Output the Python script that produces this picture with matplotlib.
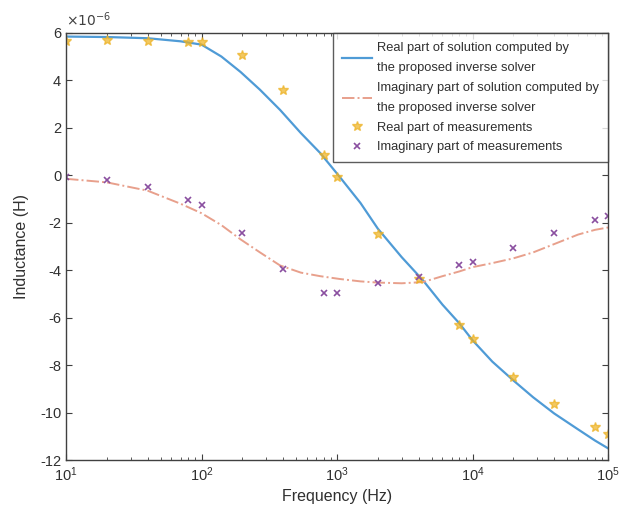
import numpy as np
import matplotlib
matplotlib.use("Agg")
import matplotlib.pyplot as plt
from matplotlib.ticker import FuncFormatter, LogLocator

plt.rcParams['font.family'] = ['Liberation Sans', 'DejaVu Sans']
plt.rcParams['axes.unicode_minus'] = False

# measurement frequencies (Hz)
freq_meas = [10, 20, 40, 80, 100, 200, 400, 800, 1000, 2000, 4000,
             8000, 10000, 20000, 40000, 80000, 100000]
# measured inductance (x1e-6 H)
real_meas = [5.66, 5.7, 5.65, 5.62, 5.62, 5.07, 3.6, 0.85, -0.08, -2.48, -4.35,
             -6.3, -6.9, -8.5, -9.65, -10.6, -10.9]
imag_meas = [-0.08, -0.2, -0.5, -1.05, -1.25, -2.44, -3.96, -4.95, -4.95, -4.55, -4.3,
             -3.8, -3.65, -3.07, -2.44, -1.89, -1.72]

# solver curves
freq_fit = [10, 20, 40, 70, 100, 140, 194, 270, 380, 540, 750, 1050, 1490, 2000,
            3000, 4300, 6000, 8000, 10000, 14000, 20000, 28000, 40000, 60000,
            80000, 100000]
real_fit = [5.84, 5.82, 5.77, 5.64, 5.5, 5.0, 4.35, 3.6, 2.75, 1.78, 0.94, -0.08,
            -1.17, -2.25, -3.45, -4.42, -5.45, -6.24, -6.95, -7.85, -8.64, -9.35,
            -10.03, -10.7, -11.17, -11.5]
imag_fit = [-0.15, -0.3, -0.65, -1.2, -1.6, -2.1, -2.7, -3.25, -3.8, -4.1, -4.25,
            -4.37, -4.47, -4.52, -4.55, -4.5, -4.25, -4.05, -3.87, -3.7, -3.5, -3.25,
            -2.9, -2.5, -2.3, -2.2]

scale = 1e-6

fig = plt.figure(figsize=(6.23, 5.2), dpi=100)
ax = fig.add_axes([0.106, 0.115, 0.870, 0.822])

ax.plot(freq_fit, np.array(real_fit) * scale, '-', color='#4f9bd6', lw=1.6,
        label='Real part of solution computed by\nthe proposed inverse solver')
ax.plot(freq_fit, np.array(imag_fit) * scale, '-.', color='#e8a08c', lw=1.4,
        label='Imaginary part of solution computed by\nthe proposed inverse solver')
ax.plot(freq_meas, np.array(real_meas) * scale, '*', color='#EDB120', ms=7,
        alpha=0.7, label='Real part of measurements', linestyle='none')
ax.plot(freq_meas, np.array(imag_meas) * scale, 'x', color='#8a4fa0', ms=5,
        mew=1.2, label='Imaginary part of measurements', linestyle='none')

ax.set_xscale('log')
ax.set_xlim(10, 1e5)
ax.set_ylim(-12e-6, 6e-6)
ax.set_yticks(np.arange(-12, 7, 2) * scale)
ax.yaxis.set_major_formatter(FuncFormatter(lambda v, p: '%d' % round(v / scale)))
ax.text(0.0, 1.008, r'$\times10^{-6}$', transform=ax.transAxes, fontsize=10,
        color='#404040', ha='left', va='bottom')

ax.xaxis.set_major_locator(LogLocator(base=10, numticks=10))
ax.xaxis.set_minor_locator(LogLocator(base=10, subs=np.arange(2, 10), numticks=20))

ax.tick_params(direction='in', which='both', top=True, right=True,
               labelsize=10.5, colors='#404040', labelcolor='#303030')
ax.tick_params(which='major', length=4)
ax.tick_params(which='minor', length=2)
for s in ax.spines.values():
    s.set_color('#404040')
    s.set_linewidth(1.0)

ax.set_xlabel('Frequency (Hz)', fontsize=11.5, color='#303030')
ax.set_ylabel('Inductance (H)', fontsize=11.5, color='#303030', labelpad=8)

leg = ax.legend(loc='upper right', fontsize=9.3, frameon=True, fancybox=False,
                edgecolor='#333333', borderaxespad=0.0, handlelength=2.3,
                labelspacing=0.58, borderpad=0.7, handletextpad=0.4)
leg.get_frame().set_linewidth(1.0)
for t in leg.get_texts():
    t.set_linespacing(1.93)
    t.set_color('#303030')

fig.savefig('out.png', dpi=100)
